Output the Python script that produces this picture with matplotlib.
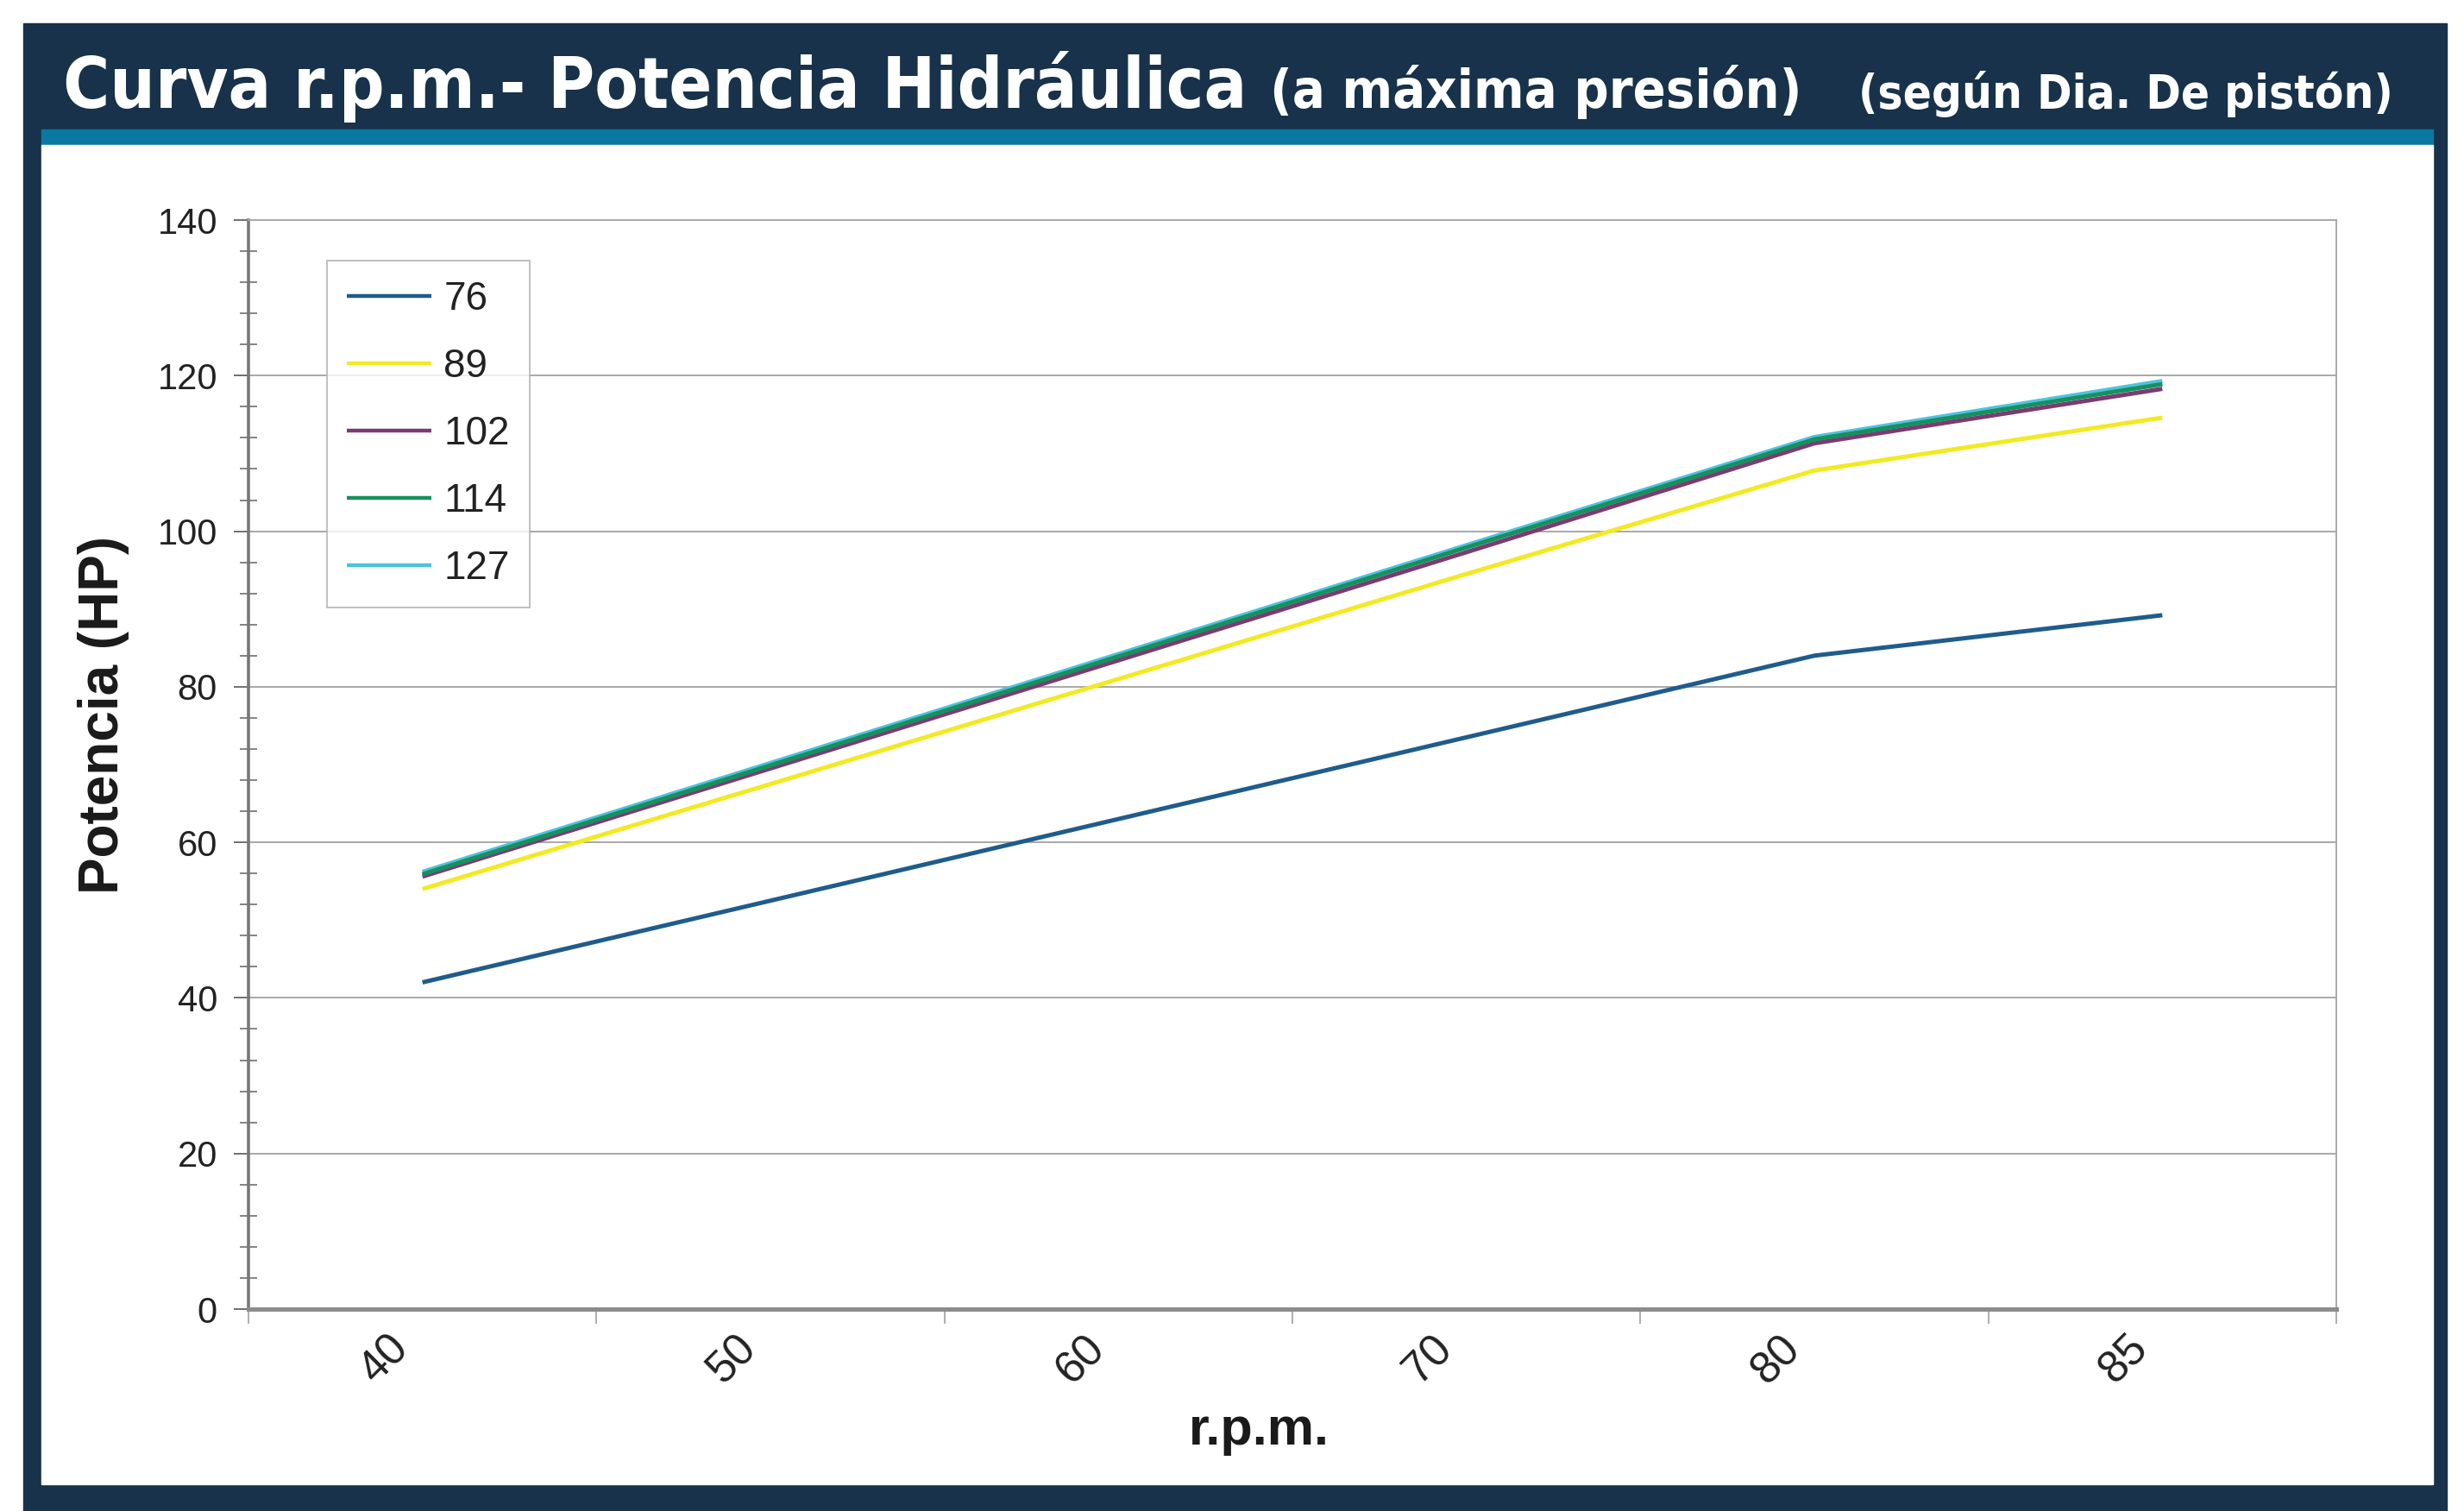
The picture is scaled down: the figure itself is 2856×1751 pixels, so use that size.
import numpy as np
import matplotlib
matplotlib.use('Agg')
import matplotlib.pyplot as plt
import matplotlib.transforms as mtransforms
from matplotlib.patches import Rectangle
from matplotlib.ticker import MultipleLocator, FixedLocator

# data
rpm = ['40', '50', '60', '70', '80', '85']
hp_76 = [42.0, 52.5, 63.0, 73.5, 84.0, 89.2]
hp_89 = [54.0, 67.5, 81.0, 94.5, 107.8, 114.6]
hp_102 = [55.6, 69.5, 83.4, 97.3, 111.3, 118.3]
hp_114 = [55.9, 69.9, 83.9, 97.9, 111.8, 118.9]
hp_127 = [56.2, 70.2, 84.2, 98.2, 112.1, 119.3]

series = [('76', hp_76, '#1f5c8c'),
          ('89', hp_89, '#f2ea22'),
          ('102', hp_102, '#7c3a72'),
          ('127', hp_127, '#4ec3dc'),
          ('114', hp_114, '#17905e')]
legend_order = ['76', '89', '102', '114', '127']

navy = '#17324a'
stripe = '#0a78a0'

W, H = 2856, 1751
fig = plt.figure(figsize=(W / 100, H / 100), dpi=100)
fig.patch.set_facecolor('white')

# frame: navy panel, blue stripe, white body
def px_rect(x0, y0, x1, y1, color):
    fig.patches.append(Rectangle((x0 / W, 1 - y1 / H), (x1 - x0) / W, (y1 - y0) / H,
                                 transform=fig.transFigure, color=color, zorder=-5))

px_rect(27, 27, 2836, 1751, navy)
px_rect(48, 150, 2820, 168, stripe)
px_rect(48, 168, 2820, 1720, 'white')

title_font = ['Liberation Sans Narrow', 'DejaVu Sans']
renderer = fig.canvas.get_renderer()

def title_text(x0, txt, size, width_px, ha='left'):
    t = fig.text(x0 / W, 1 - 125 / H, txt, color='white', fontsize=size,
                 fontweight='bold', family=title_font, fontstretch='condensed',
                 va='baseline', ha=ha)
    w = t.get_window_extent(renderer).width
    if w > width_px:
        t.set_fontsize(size * width_px / w)
    return t

title_text(73, 'Curva r.p.m.- Potencia Hidráulica', 74, 1372)
title_text(1472, '(a máxima presión)', 57, 617)
title_text(2774, '(según Dia. De pistón)', 57, 619, ha='right')

ax = fig.add_axes([288 / W, 1 - 1517 / H, (2708 - 288) / W, (1517 - 255) / H])
ax.set_zorder(5)
ax.set_facecolor('white')

x = np.arange(len(rpm))
lines = {}
for name, vals, col in series:
    ln, = ax.plot(x, vals, color=col, lw=3.6, label=name, solid_capstyle='butt')
    lines[name] = ln

ax.set_xlim(-0.5, len(rpm) - 0.5)
ax.set_ylim(0, 140)
ax.yaxis.set_major_locator(MultipleLocator(20))
ax.yaxis.set_minor_locator(MultipleLocator(4))
ax.grid(axis='y', which='major', color='#a8a8a8', lw=1.4)
ax.set_axisbelow(True)

ax.set_xticks(x)
ax.set_xticklabels(rpm, rotation=45, ha='right', va='top', rotation_mode='anchor')
ax.xaxis.set_minor_locator(FixedLocator(np.arange(-0.5, len(rpm), 1.0)))
ax.tick_params(axis='x', which='major', length=0, pad=15, labelsize=37, labelcolor='#222222')
ax.tick_params(axis='x', which='minor', length=12, width=1.2, color='#a0a0a0', direction='out')
ax.tick_params(axis='y', which='major', length=12, width=1.4, color='#707070', direction='out',
               pad=14, labelsize=30, labelcolor='#222222')
ax.tick_params(axis='y', which='minor', length=14, width=1.2, color='#707070', direction='inout')

shift = mtransforms.ScaledTranslation(-41 / 100, 0, fig.dpi_scale_trans)
for lab in ax.get_xticklabels():
    lab.set_transform(lab.get_transform() + shift)

for lab in ax.get_xticklabels() + ax.get_yticklabels():
    lab.set_family(['Liberation Sans', 'DejaVu Sans'])

ax.spines['left'].set_color('#787878')
ax.spines['left'].set_linewidth(2.6)
ax.spines['bottom'].set_color('#8c8c8c')
ax.spines['bottom'].set_linewidth(3.6)
ax.spines['top'].set_color('#a8a8a8')
ax.spines['top'].set_linewidth(1.4)
ax.spines['right'].set_color('#a8a8a8')
ax.spines['right'].set_linewidth(1.4)

ax.set_xlabel('r.p.m.', fontsize=44, fontweight='bold', family=['Liberation Sans', 'DejaVu Sans'],
              color='#1a1a1a')
ax.xaxis.set_label_coords((1459 - 288) / 2420, (1517 - 1630) / 1262)
ax.set_ylabel('Potencia (HP)', fontsize=46, fontweight='bold', family=['Liberation Sans', 'DejaVu Sans'],
              color='#1a1a1a')
ax.yaxis.set_label_coords((150 - 288) / 2420, (1517 - 829) / 1262)

leg = ax.legend([lines[n] for n in legend_order], legend_order, loc='upper left',
                bbox_to_anchor=((379 - 288) / 2420, (1517 - 302) / 1262),
                borderaxespad=0, handlelength=2.15, handletextpad=0.3,
                labelspacing=0.74, borderpad=0.5, fancybox=False,
                prop={'family': ['Liberation Sans', 'DejaVu Sans'], 'size': 33})
leg.get_frame().set_edgecolor('#b0b0b0')
leg.get_frame().set_linewidth(1.4)
for t in leg.get_texts():
    t.set_color('#222222')
for h in leg.get_lines():
    h.set_linewidth(3.2)

fig.savefig('out.png', dpi=100)
